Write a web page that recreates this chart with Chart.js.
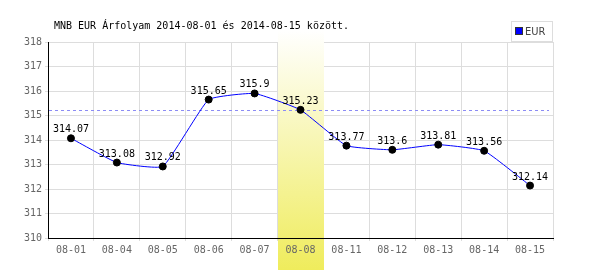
<!DOCTYPE html>
<html>
<head>
<meta charset="utf-8">
<script src="https://cdn.jsdelivr.net/npm/chart.js@4/dist/chart.umd.min.js"></script>
<style>
  html, body { margin: 0; padding: 0; background: #fff; }
  #wrap { position: relative; width: 600px; height: 270px; }
</style>
</head>
<body>
<div id="wrap"><canvas id="arfolyam"></canvas></div>
<script>
// adatok
var napok = ['08-01', '08-04', '08-05', '08-06', '08-07', '08-08', '08-11', '08-12', '08-13', '08-14', '08-15'];
var eurErtekek = [314.07, 313.08, 312.92, 315.65, 315.9, 315.23, 313.77, 313.6, 313.81, 313.56, 312.14];
var kiemeltNap = 5; // 08-08
var cim = 'MNB EUR Árfolyam 2014-08-01 és 2014-08-15 között.';
var sorozatNev = 'EUR';

var MONO = '10px "DejaVu Sans Mono", "Liberation Mono", monospace';

// kiemelt oszlop + szaggatott vonal
var kiemelesPlugin = {
    id: 'kiemeles',
    beforeDatasetsDraw: function (chart) {
        var ctx = chart.ctx;
        var x = chart.scales.x;
        var y = chart.scales.y;
        var fel = (x.getPixelForValue(1) - x.getPixelForValue(0)) / 2;
        var cx = x.getPixelForValue(kiemeltNap);
        var grad = ctx.createLinearGradient(0, 30, 0, 270);
        grad.addColorStop(0, '#ffffff');
        grad.addColorStop(1, '#efec5c');
        ctx.save();
        ctx.fillStyle = grad;
        ctx.fillRect(Math.round(cx - fel), 30, Math.round(fel * 2), 240);

        // referencia vonal a kiemelt nap értékénél
        var ry = Math.round(y.getPixelForValue(eurErtekek[kiemeltNap])) + 0.5;
        ctx.strokeStyle = '#8c8cf5';
        ctx.lineWidth = 1;
        ctx.setLineDash([3, 3]);
        ctx.beginPath();
        ctx.moveTo(chart.chartArea.left + 1, ry);
        ctx.lineTo(chart.chartArea.right - 4, ry);
        ctx.stroke();
        ctx.restore();
    },
    afterDraw: function (chart) {
        var ctx = chart.ctx;
        var meta = chart.getDatasetMeta(0);
        ctx.save();
        // értékek a pontok fölött
        ctx.font = MONO;
        ctx.fillStyle = '#000';
        ctx.textAlign = 'center';
        ctx.textBaseline = 'alphabetic';
        meta.data.forEach(function (pt, i) {
            ctx.fillText(String(eurErtekek[i]), pt.x, pt.y - 6);
        });

        // cím
        ctx.textAlign = 'left';
        ctx.fillText(cim, 54, 29);

        // jelmagyarázat
        ctx.fillStyle = '#fff';
        ctx.fillRect(511, 21, 42, 21);
        ctx.strokeStyle = '#dddddd';
        ctx.lineWidth = 1;
        ctx.strokeRect(511.5, 21.5, 41, 20);
        ctx.fillStyle = '#0000ff';
        ctx.fillRect(516, 28, 7, 7);
        ctx.strokeStyle = '#333';
        ctx.strokeRect(515.5, 27.5, 7, 7);
        ctx.fillStyle = '#444';
        ctx.font = '11px "Liberation Sans Narrow", "DejaVu Sans Condensed", "Liberation Sans", sans-serif';
        ctx.textBaseline = 'middle';
        ctx.fillText(sorozatNev, 525, 32);
        ctx.restore();
    }
};

var ctx = document.getElementById('arfolyam').getContext('2d');
var chart = new Chart(ctx, {
    type: 'line',
    data: {
        labels: napok,
        datasets: [{
            label: sorozatNev,
            data: eurErtekek,
            borderColor: '#0000ff',
            borderWidth: 1,
            tension: 0.12,
            pointRadius: 3.5,
            pointBackgroundColor: '#000',
            pointBorderColor: '#000',
            pointBorderWidth: 1,
            fill: false
        }]
    },
    options: {
        responsive: true,
        maintainAspectRatio: false,
        animation: false,
        layout: { padding: { top: 42, right: 47, left: 0, bottom: 0 } },
        plugins: {
            legend: { display: false },
            title: { display: false },
            tooltip: { enabled: false }
        },
        scales: {
            x: {
                offset: true,
                grid: { offset: true, color: '#dddddd', tickLength: 3 },
                border: { color: '#000', width: 1, z: 1 },
                ticks: { color: '#666', font: { family: '"DejaVu Sans Mono", monospace', size: 10 }, padding: 3, maxRotation: 0, z: 1 },
                afterFit: function (s) { s.height = 32; }
            },
            y: {
                min: 310,
                max: 318,
                ticks: { stepSize: 1, color: '#666', font: { family: '"DejaVu Sans Mono", monospace', size: 10 }, padding: 3 },
                grid: { color: '#dddddd', tickLength: 3 },
                border: { color: '#000', width: 1, z: 1 },
                afterFit: function (s) { s.width = 48; }
            }
        }
    },
    plugins: [kiemelesPlugin]
});
</script>
</body>
</html>
